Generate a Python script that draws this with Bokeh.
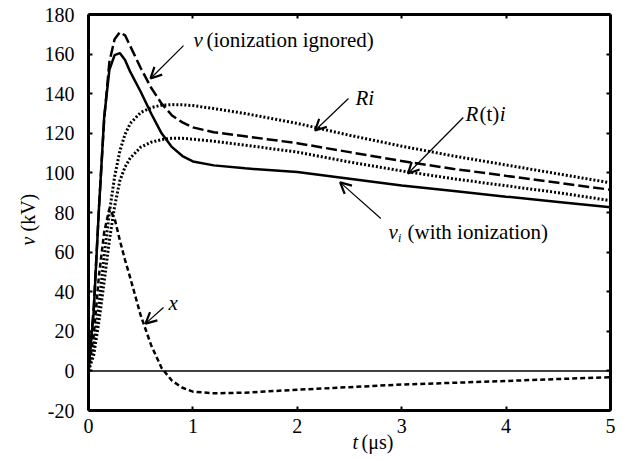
import math
from bokeh.plotting import figure
from bokeh.models import Range1d, FixedTicker, LinearAxis, Span, Label, Arrow, OpenHead
from bokeh.embed import file_html
from bokeh.resources import INLINE

# ---- data ----
t = [0, 0.05, 0.1, 0.15, 0.2, 0.25, 0.3, 0.35, 0.4, 0.5, 0.6, 0.7, 0.8, 0.9, 1.0,
     1.2, 1.5, 2.0, 2.5, 3.0, 3.5, 4.0, 4.5, 5.0]
v_ignored = [0, 32, 82, 127, 156, 167.5, 171, 169.5, 164, 153, 143, 135, 129, 125.5, 123,
             120.5, 118.5, 115, 110.5, 106, 102, 98.5, 95, 91.5]
v_ionized = [0, 30, 82, 128, 152, 159.5, 160.5, 157, 151, 141, 130, 120, 113, 108.5, 105.8,
             103.8, 102.3, 100.4, 97, 93.6, 90.8, 88, 85.3, 82.6]
Ri = [0, 12, 33, 58, 80, 98, 111, 119.5, 125, 130.5, 133, 134.2, 134.5, 134.4, 134,
      132.5, 130, 125, 119, 113.5, 108.5, 104, 99.5, 95]
Rti = [0, 8, 25, 45, 66, 83, 96, 103, 107.5, 113, 115.5, 116.8, 117.5, 117.5, 117,
       116, 114, 110.5, 105.5, 101, 97, 93.5, 90, 86]
x_curve = [0, 18, 48, 70, 82, 77, 66, 56, 47, 28, 13, 1.5, -5, -8.5, -10.5,
           -11.3, -11, -9.5, -8.2, -6.9, -6, -5.1, -4.1, -3.2]
x_ticks = [0, 1, 2, 3, 4, 5]
y_ticks = [-20, 0, 20, 40, 60, 80, 100, 120, 140, 160, 180]
y_tick_labels = {v: str(v) for v in y_ticks}   # plain hyphen for "-20"

FONT = "Liberation Serif"
FS = "20px"
AFS = "21px"

p = figure(width=623, height=461, output_backend="svg", toolbar_location=None,
           x_range=Range1d(0, 5), y_range=Range1d(-20, 180),
           min_border_left=88, min_border_right=13, min_border_top=14, min_border_bottom=51)
p.xgrid.visible = False
p.ygrid.visible = False
p.outline_line_color = None
p.background_fill_color = "white"
p.border_fill_color = "white"

def style_axis(ax, ticks, labels=True):
    ax.ticker = FixedTicker(ticks=ticks)
    ax.axis_line_width = 3
    ax.axis_line_color = "black"
    ax.major_tick_in = 4
    ax.major_tick_out = 0
    ax.major_tick_line_width = 2
    ax.minor_tick_line_color = None
    ax.major_label_text_font = FONT
    ax.major_label_text_font_size = FS
    ax.major_label_text_color = "black" if labels else None

style_axis(p.xaxis[0], x_ticks)
style_axis(p.yaxis[0], y_ticks)
p.yaxis[0].major_label_overrides = y_tick_labels
p.xaxis[0].major_label_standoff = 8
p.yaxis[0].major_label_standoff = 14

top = LinearAxis()
style_axis(top, x_ticks, labels=False)
top.major_label_standoff = 0
p.add_layout(top, "above")
right = LinearAxis()
style_axis(right, y_ticks, labels=False)
right.major_label_standoff = 0
p.add_layout(right, "right")

# zero line
p.add_layout(Span(location=0, dimension="width", line_color="black", line_width=1.5))

# curves
p.line(t, x_curve, line_color="black", line_width=2.5, line_dash="5 3")
p.line(t, Rti, line_color="black", line_width=3, line_dash="2 2")
p.line(t, Ri, line_color="black", line_width=3, line_dash="2 2")
p.line(t, v_ignored, line_color="black", line_width=2.5, line_dash="11 4")
p.line(t, v_ionized, line_color="black", line_width=2.5)

def mk(x, y, text, italic=False, size=AFS, angle=0.0):
    return Label(x=x, y=y, text=text, text_font=FONT, text_font_size=size,
                 text_font_style="italic" if italic else "normal",
                 text_align="left", text_baseline="middle", text_color="black",
                 angle=angle)

def lab(x, y, text, italic=False, size=AFS, side="center", angle=0.0):
    p.add_layout(mk(x, y, text, italic, size, angle), side)

def arr(x0, y0, x1, y1):
    p.add_layout(Arrow(x_start=x0, y_start=y0, x_end=x1, y_end=y1, line_width=1.2,
                       line_color="black",
                       end=OpenHead(size=11, line_width=2.2, line_color="black")))

# v (ionization ignored)
lab(1.006, 166.9, "v", italic=True)
lab(1.13, 166.9, "(ionization ignored)")
arr(0.91, 164.3, 0.594, 147.7)
# Ri
lab(2.557, 138, "Ri", italic=True)
arr(2.49, 137.6, 2.17, 121.4)
# R(t)i
lab(3.611, 130, "R", italic=True)
lab(3.745, 130, "(t)")
lab(3.94, 130, "i", italic=True)
arr(3.59, 128, 3.06, 99.7)
# vi (with ionization)
lab(2.874, 70.4, "v", italic=True)
lab(2.965, 67.0, "i", italic=True, size="12px")
lab(3.056, 70.4, "(with ionization)")
arr(2.80, 77, 2.41, 95.2)
# x
lab(0.766, 34.5, "x", italic=True)
arr(0.718, 32, 0.546, 23.9)

# axis titles: held by side panels (so they are not clipped), drawn at data coordinates
lab(-0.584, 63.3, "v", italic=True, size=FS, side="above", angle=math.pi / 2)
lab(-0.584, 70.4, "(kV)", size=FS, side="left", angle=math.pi / 2)
lab(2.529, -35.7, "t", italic=True, size=FS, side="right")
lab(2.615, -35.7, "(μs)", size=FS, side="below")

open("out.html", "w").write(file_html(p, INLINE))
